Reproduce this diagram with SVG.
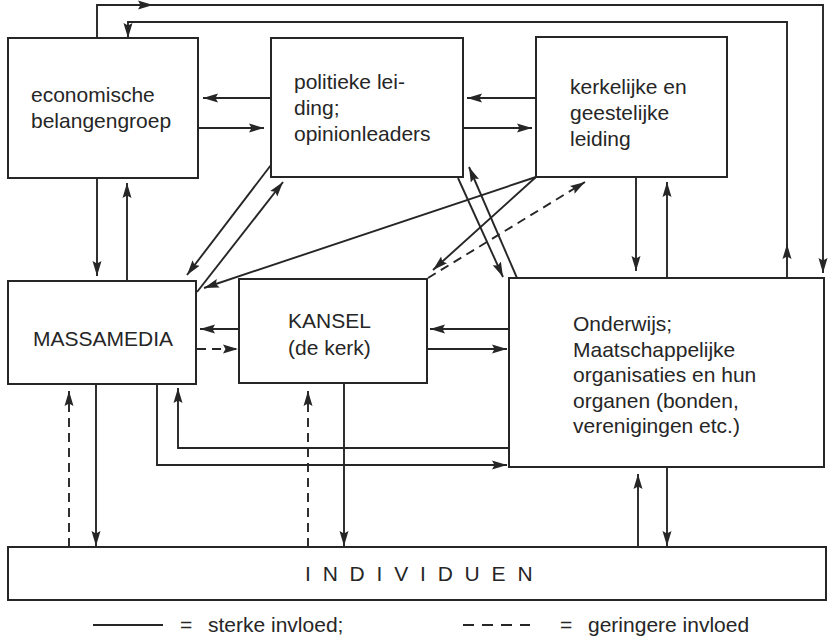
<svg xmlns="http://www.w3.org/2000/svg" width="832" height="636" viewBox="0 0 832 636">
<defs>
<marker id="ah" viewBox="0 0 15 10" refX="15" refY="5" markerWidth="15" markerHeight="10" markerUnits="userSpaceOnUse" orient="auto">
<path d="M0,0.5 L15,5 L0,9.5 L2.5,5 z" fill="#262626" stroke="none"/>
</marker>
</defs>
<style>
.box{fill:#fff;stroke:#262626;stroke-width:2}
.t{font-family:"Liberation Sans",Arial,sans-serif;font-size:21px;fill:#262626}
.c{fill:none;stroke:#262626;stroke-width:1.9}
.a{marker-end:url(#ah)}
.d{stroke-dasharray:9 6}
</style>
<rect width="832" height="636" fill="#fff"/>

<g id="connectors">
<path class="c a" d="M97,38 V5 H153"/>
<path class="c a" d="M150,5 H823 V273"/>
<path class="c a" d="M787,278 V244"/>
<path class="c a" d="M787,246 V22 H128 V38"/>
<path class="c a" d="M271,98 H203"/>
<path class="c a" d="M198,128 H264"/>
<path class="c a" d="M536,98 H467"/>
<path class="c a" d="M463,128 H532"/>
<path class="c a" d="M97,178 V276"/>
<path class="c a" d="M127,281 V183"/>
<path class="c a" d="M271,165 L187,275"/>
<path class="c a" d="M197,292 L283,182"/>
<path class="c a" d="M536,177 L204,288"/>
<path class="c a" d="M536,177 L433,270"/>
<path class="c a d" d="M428,278 L585,182"/>
<path class="c a" d="M458,178 L503,277"/>
<path class="c a" d="M517,278 L469,167"/>
<path class="c a" d="M239,329 H200"/>
<path class="c a d" d="M197,349 H238"/>
<path class="c a" d="M509,329 H430"/>
<path class="c a" d="M427,349 H507"/>
<path class="c a" d="M636,177 V271"/>
<path class="c a" d="M667,278 V182"/>
<path class="c a" d="M509,448 H178 V388"/>
<path class="c a" d="M157,384 V465 H507"/>
<path class="c a d" d="M69,547 V391"/>
<path class="c a" d="M96,384 V546"/>
<path class="c a d" d="M308,547 V391"/>
<path class="c a" d="M344,383 V546"/>
<path class="c a" d="M638,547 V474"/>
<path class="c a" d="M667,467 V546"/>
</g>

<g id="economische">
<rect class="box" x="8" y="38" width="190" height="140"/>
<text class="t" x="31" y="102">economische</text>
<text class="t" x="31" y="128">belangengroep</text>
</g>
<g id="politieke">
<rect class="box" x="271" y="38" width="192" height="139"/>
<text class="t" x="294" y="89">politieke lei-</text>
<text class="t" x="294" y="115">ding;</text>
<text class="t" x="294" y="141">opinionleaders</text>
</g>
<g id="kerkelijke">
<rect class="box" x="536" y="37" width="191" height="140"/>
<text class="t" x="570" y="94">kerkelijke en</text>
<text class="t" x="570" y="120">geestelijke</text>
<text class="t" x="570" y="146">leiding</text>
</g>
<g id="massamedia">
<rect class="box" x="8" y="281" width="188" height="103"/>
<text class="t" x="33" y="346">MASSAMEDIA</text>
</g>
<g id="kansel">
<rect class="box" x="239" y="279" width="188" height="104"/>
<text class="t" x="288" y="328">KANSEL</text>
<text class="t" x="288" y="355">(de kerk)</text>
</g>
<g id="onderwijs">
<rect class="box" x="509" y="278" width="315" height="189"/>
<text class="t" x="573" y="331">Onderwijs;</text>
<text class="t" x="573" y="357">Maatschappelijke</text>
<text class="t" x="573" y="382">organisaties en hun</text>
<text class="t" x="573" y="408">organen (bonden,</text>
<text class="t" x="573" y="433">verenigingen etc.)</text>
</g>
<g id="individuen">
<rect class="box" x="8" y="547" width="818" height="53"/>
<text class="t" x="305" y="581" letter-spacing="11.8">INDIVIDUEN</text>
</g>

<g id="legend">
<line class="c" x1="93" y1="625" x2="163" y2="625"/>
<text class="t" x="180" y="632">=</text>
<text class="t" x="208" y="632">sterke invloed;</text>
<line class="c" x1="463" y1="625" x2="530" y2="625" stroke-dasharray="11 8"/>
<text class="t" x="560" y="632">=</text>
<text class="t" x="588" y="632">geringere invloed</text>
</g>
</svg>
